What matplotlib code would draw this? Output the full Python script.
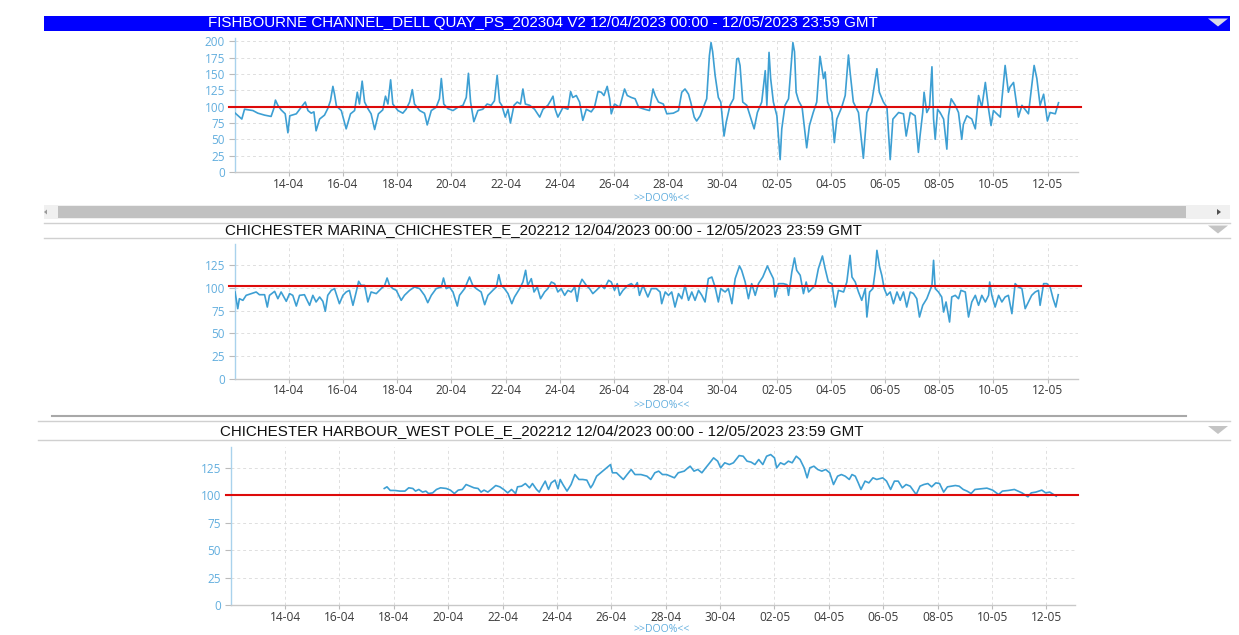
import datetime as dt
import matplotlib
matplotlib.use("Agg")
import matplotlib.pyplot as plt
import matplotlib.dates as mdates
from matplotlib.patches import Rectangle, Polygon
from matplotlib.lines import Line2D

# ---------------- data (days since 12/04/2023 00:00, DO %) ----------------
start_date = dt.datetime(2023, 4, 12)

fish_days = [0.00, 0.27, 0.37, 0.68, 0.86, 1.11, 1.35, 1.45, 1.51, 1.60, 1.72, 1.87, 1.97, 2.04, 2.28,
             2.46, 2.61, 2.71, 2.83, 2.93, 3.01, 3.14, 3.32, 3.44, 3.54, 3.63, 3.69, 3.76, 3.94, 4.12,
             4.28, 4.43, 4.53, 4.61, 4.71, 4.80, 4.92, 5.04, 5.17, 5.31, 5.47, 5.57, 5.66, 5.76, 5.84,
             6.03, 6.21, 6.33, 6.46, 6.56, 6.64, 6.83, 7.01, 7.11, 7.26, 7.44, 7.56, 7.63, 7.72, 7.87,
             8.06, 8.24, 8.43, 8.55, 8.63, 8.71, 8.83, 8.98, 9.16, 9.32, 9.47, 9.59, 9.69, 9.78, 9.86,
             9.99, 10.09, 10.18, 10.31, 10.43, 10.55, 10.64, 10.73, 10.89, 11.07, 11.26, 11.38, 11.56,
             11.66, 11.75, 11.83, 11.93, 12.12, 12.30, 12.40, 12.48, 12.61, 12.73, 12.85, 12.98, 13.16,
             13.28, 13.41, 13.53, 13.63, 13.75, 13.84, 13.90, 14.02, 14.21, 14.39, 14.49, 14.64, 14.78,
             14.91, 15.13, 15.31, 15.44, 15.52,
             15.64, 15.82, 15.95, 16.19, 16.38, 16.50, 16.62, 16.75, 16.83, 16.96, 17.05, 17.18, 17.30,
             17.42, 17.52, 17.58, 17.64, 17.73, 17.85, 17.94, 18.06, 18.14, 18.28, 18.41, 18.53, 18.59,
             18.65, 18.75, 18.90, 19.02, 19.17, 19.29, 19.45, 19.58, 19.64, 19.72, 19.78, 19.88, 20.01,
             20.13, 20.19, 20.31, 20.44, 20.60, 20.66, 20.72, 20.81, 20.94, 21.11, 21.21, 21.35, 21.48,
             21.60, 21.73, 21.79, 21.88, 22.04, 22.13, 22.22, 22.40, 22.53, 22.65, 22.71, 22.83, 23.02,
             23.20, 23.33, 23.51, 23.70, 23.79, 23.94, 24.07, 24.19, 24.29, 24.50, 24.68, 24.78, 24.93,
             25.11, 25.23, 25.29, 25.39, 25.44, 25.54, 25.64, 25.73, 25.79, 25.85, 25.94, 26.03, 26.16,
             26.28, 26.34, 26.44, 26.59, 26.71, 26.83, 26.89, 27.02, 27.20, 27.33, 27.45, 27.57, 27.70,
             27.82, 27.91, 28.00, 28.25, 28.43, 28.55, 28.61, 28.74, 28.92, 29.05, 29.29, 29.50, 29.60,
             29.72, 29.85, 29.99, 30.09, 30.28, 30.40]
fish_vals = [91, 81, 96, 94, 90, 87, 85, 97, 110, 102, 95, 89, 60, 86, 89,
             99, 107, 94, 90, 92, 63, 81, 87, 97, 109, 131, 119, 101, 94, 66,
             89, 94, 122, 104, 139, 107, 97, 89, 65, 89, 95, 116, 104, 141, 104,
             94, 90, 96, 107, 126, 104, 94, 90, 72, 94, 99, 112, 143, 104, 97,
             94, 99, 102, 114, 151, 107, 77, 94, 96, 104, 102, 109, 148, 107, 102,
             84, 96, 75, 102, 107, 104, 127, 104, 102, 96, 84, 96, 102,
             109, 116, 96, 84, 99, 96, 123, 114, 117, 107, 79, 96, 92,
             99, 123, 122, 117, 131, 112, 89, 104, 99, 127, 117, 114, 112,
             99, 96, 94, 127, 117,
             107, 104, 89, 90, 94, 122, 127, 119, 107, 84, 78, 86, 99,
             112, 178, 198, 184, 148, 114, 107, 55, 76, 102, 112, 173, 174,
             163, 107, 102, 86, 66, 91, 107, 155, 102, 183, 143, 107, 86,
             19, 66, 102, 112, 198, 184, 122, 109, 99, 37, 71, 91, 107,
             177, 143, 153, 107, 91, 45, 81, 99, 117, 179, 153, 107, 91,
             21, 91, 107, 158, 122, 107, 99, 19, 81, 91, 89, 55, 91,
             86, 30, 55, 91, 122, 91, 99, 161, 81, 50, 96, 91, 81,
             35, 86, 112, 102, 91, 50, 73, 86, 81, 66, 117, 99, 137,
             96, 71, 94, 84, 163, 122, 130, 137, 84, 102, 89, 163, 143,
             102, 119, 78, 91, 89, 106]

marina_days = [0.02, 0.12, 0.18, 0.31, 0.43, 0.62, 0.80, 0.92, 1.11, 1.21, 1.29, 1.48, 1.60, 1.72, 1.91,
               2.03, 2.15, 2.28, 2.40, 2.58, 2.77, 2.89, 3.01, 3.14, 3.26, 3.35, 3.44, 3.57, 3.69, 3.87,
               4.00, 4.12, 4.24, 4.37, 4.49, 4.58, 4.67, 4.80, 4.92, 5.04, 5.23, 5.41, 5.54, 5.63, 5.72,
               5.84, 5.97, 6.15, 6.27, 6.46, 6.64, 6.83, 7.01, 7.13, 7.26, 7.44, 7.63, 7.71, 7.81, 7.93,
               8.06, 8.22, 8.30, 8.49, 8.67, 8.79, 8.92, 9.10, 9.23, 9.35, 9.53, 9.66, 9.75, 9.84, 9.96,
               10.09, 10.23, 10.33, 10.52, 10.64, 10.74, 10.82, 10.95, 11.05, 11.17, 11.29, 11.44, 11.56,
               11.69, 11.81, 11.93, 12.05, 12.18, 12.30, 12.42, 12.55, 12.64, 12.73, 12.82, 12.98, 13.10,
               13.22, 13.35, 13.53, 13.65, 13.80, 13.90, 14.02, 14.12, 14.21, 14.33, 14.51, 14.64, 14.76,
               14.86, 14.94, 15.07, 15.25, 15.38, 15.56,
               15.70, 15.76, 15.89, 16.01, 16.13, 16.25, 16.38, 16.50, 16.62, 16.75, 16.87, 16.99, 17.12,
               17.24, 17.36, 17.48, 17.61, 17.73, 17.85, 17.94, 18.10, 18.22, 18.35, 18.47, 18.63, 18.71,
               18.84, 18.96, 19.08, 19.21, 19.33, 19.49, 19.66, 19.76, 19.88, 19.94, 20.07, 20.25, 20.38,
               20.44, 20.56, 20.66, 20.74, 20.87, 20.99, 21.09, 21.18, 21.30, 21.42, 21.54, 21.69, 21.79,
               21.91, 22.04, 22.16, 22.28, 22.47, 22.59, 22.71, 22.78, 22.90, 23.02, 23.14, 23.27, 23.33,
               23.43, 23.55, 23.64, 23.70, 23.80, 23.88, 23.97, 24.07, 24.19, 24.31, 24.44, 24.56, 24.68,
               24.80, 24.93, 25.05, 25.17, 25.27, 25.39, 25.54, 25.73, 25.79, 25.85, 25.97, 26.09, 26.16,
               26.25, 26.38, 26.46, 26.59, 26.71, 26.80, 26.96, 27.08, 27.20, 27.33, 27.45, 27.57, 27.70,
               27.82, 27.86, 27.94, 28.06, 28.19, 28.31, 28.43, 28.55, 28.68, 28.80, 28.92, 29.05, 29.17,
               29.29, 29.41, 29.54, 29.66, 29.72, 29.85, 29.97, 30.09, 30.20, 30.30, 30.39]
marina_vals = [95.6, 77.2, 88.2, 86.4, 91.9, 93.8, 95.6, 92.6, 92.6, 79.0, 91.9, 96.3, 88.2, 95.6, 85.3,
               93.8, 91.9, 80.1, 91.9, 92.6, 80.9, 91.9, 84.6, 90.1, 85.3, 74.3, 91.9, 97.4, 99.3, 82.7,
               91.9, 95.6, 97.4, 80.9, 95.6, 107.4, 102.9, 102.9, 84.6, 95.6, 93.8, 99.3, 102.9, 111.0, 102.9,
               99.3, 97.4, 86.4, 91.9, 97.4, 101.1, 99.3, 91.9, 83.8, 91.9, 99.3, 101.1, 111.0, 99.3, 101.1,
               95.6, 80.1, 91.9, 99.3, 112.1, 102.9, 99.3, 95.6, 81.6, 91.9, 97.4, 101.1, 114.7, 102.9, 99.3,
               93.8, 82.7, 90.1, 99.3, 106.6, 119.5, 102.9, 110.3, 95.6, 101.1, 88.2, 95.6, 99.3,
               106.6, 104.8, 95.6, 99.3, 91.9, 97.4, 95.6, 101.1, 85.3, 102.9, 109.6, 102.9, 99.3,
               93.8, 97.4, 102.9, 99.3, 108.5, 106.6, 97.4, 104.8, 91.9, 97.4, 102.9, 104.8, 101.1,
               105.9, 91.9, 102.9, 90.1, 99.3, 99.3,
               95.6, 82.7, 95.6, 91.9, 95.6, 79.0, 93.8, 88.2, 102.9, 86.4, 95.6, 86.4, 97.4,
               91.9, 84.6, 110.3, 112.1, 101.1, 84.6, 99.3, 95.6, 99.3, 82.7, 110.3, 124.3, 119.5,
               106.6, 88.2, 104.8, 91.9, 104.8, 112.1, 124.3, 117.6, 110.3, 90.1, 104.8, 104.8, 103.7,
               91.9, 117.6, 133.1, 119.5, 114.0, 93.8, 106.6, 95.6, 99.3, 102.9, 121.3, 135.3, 121.3,
               106.6, 104.8, 79.0, 97.4, 95.6, 106.6, 136.0, 112.1, 106.6, 95.6, 86.4, 99.3, 68.0,
               95.6, 99.3, 119.5, 141.5, 123.2, 114.0, 99.3, 91.9, 95.6, 82.7, 95.6, 86.4, 95.6,
               79.0, 95.6, 93.8, 88.2, 68.0, 80.9, 88.2, 102.9, 130.5, 99.3, 95.6, 90.1, 73.5,
               84.6, 62.5, 90.1, 91.9, 88.2, 97.4, 95.6, 68.0, 84.6, 91.9, 80.9, 91.9, 84.6,
               91.9, 106.6, 91.9, 79.0, 91.9, 84.6, 90.1, 91.9, 71.7, 104.8, 101.1, 99.3, 77.2,
               84.6, 91.9, 95.6, 97.4, 80.9, 104.8, 104.8, 101.1, 88.2, 79.0, 92.6]

west_days = [5.65, 5.75, 5.87, 6.04, 6.22, 6.41, 6.55, 6.70, 6.80, 6.92, 7.06, 7.18, 7.28, 7.43, 7.57,
             7.72, 7.93, 8.08, 8.23, 8.37, 8.52, 8.66, 8.81, 8.95, 9.10, 9.21, 9.32, 9.46, 9.61, 9.75,
             9.90, 10.04, 10.19, 10.33, 10.48, 10.55, 10.70, 10.84, 10.99, 11.10, 11.25, 11.35, 11.45,
             11.57, 11.69, 11.79, 11.93, 12.04, 12.12, 12.22, 12.37, 12.52, 12.66, 12.81, 12.95, 13.10,
             13.24, 13.32, 13.46, 13.61, 13.75, 13.90, 13.97, 14.04, 14.19,
             14.44, 14.58, 14.73, 14.87, 15.09, 15.31, 15.45, 15.60, 15.74, 15.88, 16.03, 16.17, 16.32,
             16.46, 16.68, 16.82, 16.90, 17.04, 17.18, 17.33, 17.47, 17.62, 17.76, 17.91, 18.02, 18.17,
             18.34, 18.49, 18.70, 18.85, 18.99, 19.14, 19.28, 19.42, 19.57, 19.71, 19.86, 20.00, 20.08,
             20.22, 20.36, 20.51, 20.65, 20.80, 20.94, 21.09, 21.20, 21.30, 21.45, 21.59, 21.74, 21.88,
             22.03, 22.17, 22.32, 22.46, 22.60, 22.75, 22.85, 22.97, 23.08, 23.18, 23.33, 23.47, 23.62,
             23.76, 23.98, 24.12, 24.27, 24.41, 24.55, 24.70, 24.84, 24.99, 25.21, 25.35, 25.49, 25.64,
             25.78, 25.93, 26.07, 26.22, 26.36, 26.51, 26.65, 26.79, 26.94, 27.08, 27.23, 27.37, 27.59,
             27.81, 28.02, 28.24, 28.38, 28.60, 28.82, 28.96, 29.10, 29.32, 29.44, 29.61, 29.83, 29.97,
             30.12, 30.26, 30.36]
west_vals = [106.2, 107.7, 104.4, 104.4, 103.8, 103.8, 106.8, 106.2, 103.8, 105.3, 102.9, 103.8, 101.6, 102.2, 105.3,
             106.8, 106.2, 104.7, 101.6, 104.7, 105.3, 109.8, 108.3, 106.8, 106.2, 102.9, 104.7, 102.9, 105.9, 108.9,
             107.7, 105.3, 102.2, 105.3, 101.6, 107.7, 108.3, 110.7, 106.8, 110.7, 105.3, 102.9, 107.7,
             112.9, 105.3, 111.3, 113.8, 105.9, 114.4, 109.8, 103.8, 109.8, 118.9, 114.4, 114.4, 113.8,
             106.8, 109.8, 117.4, 120.5, 123.5, 126.5, 128.0, 120.5, 120.5,
             114.4, 118.9, 123.5, 118.9, 118.9, 117.4, 114.4, 120.5, 122.0, 118.9, 118.9, 117.4, 115.9,
             120.5, 122.0, 125.0, 126.5, 122.0, 123.5, 120.5, 125.0, 129.6, 134.1, 131.1, 125.0, 129.6,
             128.0, 129.6, 136.2, 135.6, 131.1, 130.2, 128.0, 132.6, 128.0, 135.6, 137.1, 134.1, 125.0,
             129.6, 128.0, 131.1, 129.6, 135.6, 132.6, 125.0, 115.9, 125.0, 126.5, 123.5, 122.0, 123.5,
             120.5, 109.8, 117.4, 118.9, 117.4, 114.4, 118.9, 117.4, 111.3, 105.3, 112.9, 111.3, 115.9,
             114.4, 115.9, 112.9, 105.3, 112.9, 112.9, 106.8, 109.8, 108.3, 100.7, 108.3, 109.8, 110.7,
             107.7, 111.3, 110.7, 102.9, 107.7, 108.3, 108.9, 108.3, 105.3, 103.8, 101.6, 105.3, 105.9,
             106.5, 104.7, 100.7, 103.8, 104.4, 105.3, 103.8, 102.2, 98.6, 102.2, 102.9, 104.7, 102.2,
             102.9, 100.7, 99.2]

panel_titles = [
    "FISHBOURNE CHANNEL_DELL QUAY_PS_202304 V2 12/04/2023 00:00 - 12/05/2023 23:59 GMT",
    "CHICHESTER MARINA_CHICHESTER_E_202212 12/04/2023 00:00 - 12/05/2023 23:59 GMT",
    "CHICHESTER HARBOUR_WEST POLE_E_202212 12/04/2023 00:00 - 12/05/2023 23:59 GMT",
]
threshold_levels = [100, 102, 100]
y_ticks_list = [[0, 25, 50, 75, 100, 125, 150, 175, 200],
                [0, 25, 50, 75, 100, 125],
                [0, 25, 50, 75, 100, 125]]
axis_label = ">>DOO%<<"
tick_day_offsets = list(range(2, 31, 2))

# ---------------- layout ----------------
W, H = 1239, 635
fig = plt.figure(figsize=(W / 100, H / 100), dpi=100)
fig.patch.set_facecolor("white")

def fx(x):
    return x / W

def fy(y):
    return 1 - y / H

LINE_C = "#3d9fd3"
RED_C = "#dd0a0a"
YLAB_C = "#62aede"
XLAB_C = "#3a3a3a"
GRID_C = "#dedede"

# axes geometry: (left px, right px, top px, bottom px, xmax days, ymax)
geoms = [
    (234.5, 1077.5, 38, 172, 31.1, 205),
    (234.5, 1077.5, 244, 378.7, 31.1, 148.5),
    (230.6, 1075.0, 447, 605, 31.05, 144),
]
series = [(fish_days, fish_vals), (marina_days, marina_vals), (west_days, west_vals)]

base = mdates.date2num(start_date)
tick_pos = [base + d for d in tick_day_offsets]

for i, ((l, r, t, b, xmax, ymax), (days, vals)) in enumerate(zip(geoms, series)):
    ax = fig.add_axes([fx(l), fy(b), (r - l) / W, (b - t) / H])
    xs = [base + d for d in days]
    ax.plot(xs, vals, color=LINE_C, lw=1.2, zorder=3)
    ax.axhline(threshold_levels[i], xmin=-0.006, xmax=1.004, color=RED_C, lw=1.5,
               zorder=4, clip_on=False)
    ax.set_xlim(base, base + xmax)
    ax.set_ylim(0, ymax)
    ax.set_xticks(tick_pos)
    ax.xaxis.set_major_formatter(mdates.DateFormatter("%d-%m"))
    ax.set_yticks(y_ticks_list[i])
    ax.grid(True, color=GRID_C, linestyle=(0, (3, 3)), lw=0.7)
    ax.set_axisbelow(True)
    for s in ["top", "right"]:
        ax.spines[s].set_visible(False)
    ax.spines["left"].set_color("#a9d2ec")
    ax.spines["left"].set_linewidth(1.0)
    ax.spines["bottom"].set_color("#c8c8c8")
    ax.spines["bottom"].set_linewidth(1.0)
    ax.tick_params(axis="y", colors="#bbbbbb", labelcolor=YLAB_C, labelsize=8.5,
                   length=4, width=0.8, pad=3)
    ax.tick_params(axis="x", colors="#bbbbbb", labelcolor=XLAB_C, labelsize=8.6,
                   length=3, width=0.8, pad=1)
    for lab in ax.get_xticklabels() + ax.get_yticklabels():
        lab.set_fontfamily("Open Sans")

# ">>DOO%<<" labels
for ylab in [198.5, 405.5, 629.5]:
    fig.text(fx(662), fy(ylab), axis_label, color=YLAB_C, fontsize=7.6, ha="center",
             va="center", family="Open Sans")

# ---- header 1 (blue bar) ----
fig.add_artist(Rectangle((fx(44), fy(30.5)), (1230 - 44) / W, 14 / H, transform=fig.transFigure,
                         facecolor="#0000ff", edgecolor="none"))
fig.text(fx(543), fy(23.3), panel_titles[0], color="white", fontsize=10.9, ha="center", va="center",
         family="Liberation Sans")

def triangle(cx, cy, color):
    pts = [(fx(cx - 10), fy(cy - 4)), (fx(cx + 10), fy(cy - 4)), (fx(cx), fy(cy + 4))]
    fig.add_artist(Polygon(pts, closed=True, transform=fig.transFigure, facecolor=color,
                           edgecolor="none"))

triangle(1218, 22.5, "#d8d8e8")

# ---- scrollbar under panel 1 ----
fig.add_artist(Rectangle((fx(44), fy(219)), (1230 - 44) / W, 14 / H, transform=fig.transFigure,
                         facecolor="#f0f0f0", edgecolor="none"))
fig.add_artist(Rectangle((fx(58), fy(218)), (1186 - 58) / W, 12 / H, transform=fig.transFigure,
                         facecolor="#c1c1c1", edgecolor="none"))
fig.add_artist(Polygon([(fx(44), fy(212)), (fx(47), fy(209.5)), (fx(47), fy(214.5))], closed=True,
                       transform=fig.transFigure, facecolor="#9a9a9a", edgecolor="none"))
fig.add_artist(Polygon([(fx(1221), fy(212)), (fx(1217), fy(209)), (fx(1217), fy(215))], closed=True,
                       transform=fig.transFigure, facecolor="#505050", edgecolor="none"))

# ---- header 2 ----
for yy in [222.5, 237.5]:
    fig.add_artist(Line2D([fx(44), fx(1230)], [fy(yy), fy(yy)], transform=fig.transFigure,
                          color="#d0d0d0", lw=1.0))
fig.text(fx(543), fy(230.5), panel_titles[1], color="#111111", fontsize=10.9, ha="center",
         va="center", family="Liberation Sans")
triangle(1218, 229.5, "#c4c4c4")

# ---- separator + header 3 ----
fig.add_artist(Line2D([fx(52), fx(1186)], [fy(416), fy(416)], transform=fig.transFigure,
                      color="#a8a8a8", lw=1.5))
for yy in [420.5, 439.5]:
    fig.add_artist(Line2D([fx(38), fx(1230)], [fy(yy), fy(yy)], transform=fig.transFigure,
                          color="#d0d0d0", lw=1.0))
fig.text(fx(542), fy(431), panel_titles[2], color="#111111", fontsize=10.9, ha="center",
         va="center", family="Liberation Sans")
triangle(1218, 430, "#c4c4c4")

fig.savefig("out.png", dpi=100, facecolor="white")
